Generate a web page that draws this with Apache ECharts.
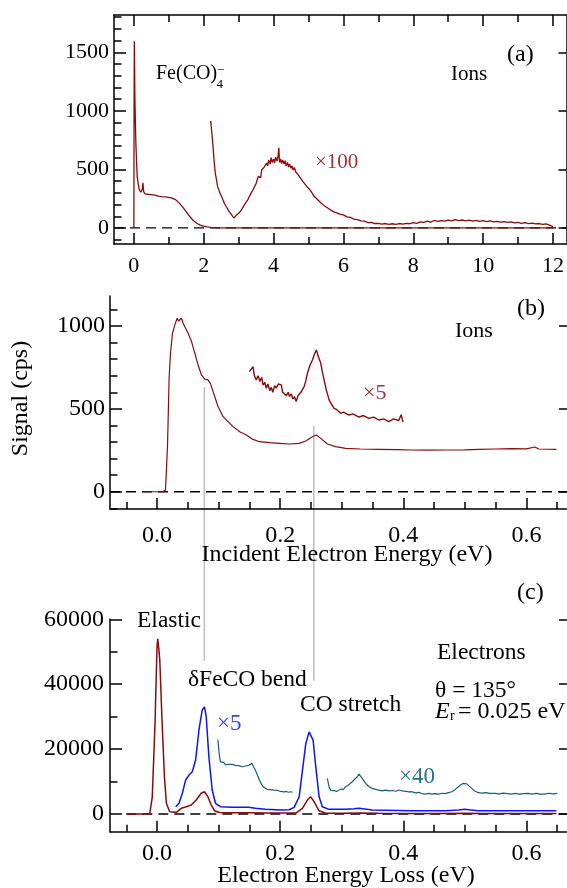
<!DOCTYPE html>
<html>
<head>
<meta charset="utf-8">
<script src="https://cdn.jsdelivr.net/npm/echarts@6/dist/echarts.min.js"></script>
<style>
html,body{margin:0;padding:0;background:#fff;}
#chart{width:567px;height:888px;}
</style>
</head>
<body>
<div id="chart"></div>
<script>
// ---------------- DATA ----------------
// Panel (a): ions, incident energy 0-12 eV
const ionsA = [[0,0],[0.005,900],[0.012,1595],[0.03,1090],[0.057,723],[0.095,438],[0.15,330],[0.2,305],[0.24,330],[0.26,385],[0.28,310],[0.32,292],[0.4,288],[0.5,284],[0.6,280],[0.7,272],[0.8,268],[0.9,266],[1.0,262],[1.1,255],[1.2,240],[1.3,212],[1.4,178],[1.5,138],[1.6,98],[1.7,64],[1.8,40],[1.9,24],[2.0,15],[2.1,9],[2.2,5],[2.4,2],[2.7,1],[3,0],[12,0]];
const ionsAx100 = [[2.20,915],[2.23,820],[2.26,720],[2.30,560],[2.33,470],[2.36,420],[2.40,350],[2.43,330],[2.46,300],[2.50,275],[2.53,255],[2.56,240],[2.60,205],[2.63,195],[2.66,175],[2.70,165],[2.73,140],[2.76,130],[2.80,112],[2.83,100],[2.86,85],[2.88,95],[2.91,88],[2.94,110],[2.97,100],[3.00,125],[3.03,120],[3.06,145],[3.10,150],[3.13,180],[3.16,170],[3.20,215],[3.23,200],[3.26,240],[3.30,265],[3.33,255],[3.36,300],[3.40,320],[3.43,310],[3.46,355],[3.50,380],[3.53,365],[3.56,440],[3.60,450],[3.63,430],[3.66,495],[3.70,490],[3.73,520],[3.76,505],[3.80,555],[3.83,530],[3.86,580],[3.90,545],[3.93,600],[3.96,560],[4.00,590],[4.03,555],[4.06,605],[4.10,570],[4.13,615],[4.15,685],[4.17,560],[4.20,590],[4.23,550],[4.26,580],[4.30,545],[4.33,575],[4.36,530],[4.40,560],[4.43,520],[4.46,545],[4.50,510],[4.53,530],[4.56,495],[4.60,515],[4.63,480],[4.66,490],[4.70,455],[4.73,470],[4.76,430],[4.80,440],[4.83,400],[4.86,415],[4.90,375],[4.93,390],[4.96,350],[5.00,365],[5.03,330],[5.06,335],[5.10,300],[5.13,310],[5.16,270],[5.20,285],[5.25,245],[5.30,255],[5.35,215],[5.40,225],[5.45,190],[5.50,200],[5.55,170],[5.60,175],[5.65,150],[5.70,158],[5.75,135],[5.80,140],[5.90,118],[6.00,112],[6.10,95],[6.20,90],[6.30,75],[6.40,72],[6.50,60],[6.60,58],[6.70,45],[6.80,48],[6.90,38],[7.00,40],[7.10,32],[7.20,38],[7.30,30],[7.40,36],[7.50,31],[7.60,38],[7.70,33],[7.80,40],[7.90,36],[8.00,45],[8.10,40],[8.20,52],[8.30,47],[8.40,58],[8.50,50],[8.60,64],[8.70,56],[8.80,62],[8.90,58],[9.00,66],[9.10,60],[9.20,72],[9.30,62],[9.40,68],[9.50,60],[9.60,66],[9.70,58],[9.80,64],[9.90,57],[10.00,62],[10.10,55],[10.20,60],[10.30,52],[10.40,57],[10.50,50],[10.60,55],[10.70,47],[10.80,52],[10.90,44],[11.00,48],[11.10,40],[11.20,45],[11.30,37],[11.40,42],[11.50,35],[11.60,38],[11.70,30],[11.80,34],[11.90,24],[12.00,12]];
// Panel (b): ions, incident energy 0-0.65 eV
const ionsB = [[-0.0236,0],[0.0097,0],[0.0136,10],[0.0169,272],[0.0196,694],[0.0218,836],[0.025,956],[0.0288,1007],[0.0326,1047],[0.035,1030],[0.037,1037],[0.0396,1047],[0.042,1020],[0.045,996],[0.0504,956],[0.056,906],[0.0612,836],[0.0666,765],[0.072,705],[0.0774,679],[0.0828,675],[0.0866,654],[0.091,604],[0.0991,513],[0.1072,453],[0.1153,423],[0.1234,393],[0.1342,362],[0.145,342],[0.1558,316],[0.1666,302],[0.1828,296],[0.199,292],[0.2152,288],[0.2308,292],[0.2416,306],[0.2524,332],[0.2588,342],[0.266,322],[0.2766,288],[0.29,272],[0.3063,262],[0.33,258],[0.36,256],[0.39,254],[0.414,252],[0.44,251],[0.468,252],[0.5,253],[0.522,256],[0.55,258],[0.5757,260],[0.6,259],[0.6136,270],[0.62,258],[0.6486,256]];
const ionsBx5 = [[0.15,725],[0.153,740],[0.1558,755],[0.158,700],[0.161,675],[0.164,700],[0.167,665],[0.17,690],[0.172,644],[0.175,660],[0.1774,624],[0.18,650],[0.183,610],[0.1855,630],[0.188,600],[0.191,640],[0.1936,625],[0.197,650],[0.2017,645],[0.204,600],[0.2071,594],[0.21,580],[0.213,600],[0.2152,575],[0.218,590],[0.2206,560],[0.2233,574],[0.226,545],[0.229,580],[0.2308,570],[0.2335,600],[0.2362,590],[0.2389,634],[0.2416,670],[0.2443,715],[0.248,760],[0.2524,795],[0.2555,830],[0.2588,856],[0.2615,820],[0.2659,775],[0.2686,720],[0.2713,675],[0.2745,620],[0.2794,554],[0.283,530],[0.2875,503],[0.292,495],[0.2982,473],[0.303,480],[0.3117,463],[0.318,470],[0.3279,450],[0.335,460],[0.344,443],[0.352,450],[0.3602,433],[0.368,440],[0.3764,423],[0.384,440],[0.3925,430],[0.3965,465],[0.3995,420]];
// Panel (c): electrons, energy loss
const elecRed = [[-0.0495,0],[-0.012,0],[-0.0078,5300],[-0.0032,28900],[-0.0015,42000],[0.0,52000],[0.001,54000],[0.0025,51500],[0.0044,47400],[0.008,28900],[0.0119,11500],[0.0151,3300],[0.0205,720],[0.0313,520],[0.0393,1750],[0.0474,2250],[0.0555,2770],[0.0636,4300],[0.0716,6380],[0.077,6870],[0.0825,5330],[0.0879,2770],[0.0933,1020],[0.1014,450],[0.123,380],[0.15,350],[0.18,300],[0.2,280],[0.22,290],[0.2254,300],[0.2361,1750],[0.2442,4300],[0.2496,5300],[0.255,3800],[0.263,1000],[0.274,250],[0.3,230],[0.33,330],[0.36,220],[0.4,190],[0.45,180],[0.5,260],[0.53,180],[0.6,170],[0.6486,170]];
const elecBluex5 = [[0.0302,2250],[0.0356,3300],[0.041,6380],[0.0464,10480],[0.0518,12000],[0.0572,13050],[0.0626,16640],[0.068,25890],[0.0733,32050],[0.077,33000],[0.0798,29970],[0.0841,17640],[0.0895,7400],[0.0949,3300],[0.103,2250],[0.1219,2050],[0.1488,2050],[0.1596,1750],[0.1758,1440],[0.2027,1230],[0.2146,1300],[0.2227,2050],[0.2308,5300],[0.2362,13500],[0.2416,21750],[0.247,25300],[0.2497,25850],[0.2534,22770],[0.2578,14560],[0.2632,5300],[0.2685,2250],[0.2793,1440],[0.3063,1440],[0.32,1600],[0.3279,1750],[0.34,1500],[0.3493,1230],[0.414,1000],[0.468,1000],[0.49,1200],[0.5,1440],[0.51,1250],[0.522,1000],[0.6486,1000]];
const elecTealx40a = [[0.0987,22970],[0.1003,19700],[0.102,17000],[0.103,16090],[0.1057,15600],[0.108,15900],[0.111,15200],[0.1135,15500],[0.1165,15280],[0.119,14900],[0.122,15300],[0.1245,14700],[0.1273,14970],[0.13,14500],[0.1327,14900],[0.1355,14400],[0.138,14560],[0.141,14300],[0.1435,14800],[0.146,14500],[0.1488,14970],[0.151,15300],[0.1542,15600],[0.157,14400],[0.1596,13540],[0.1623,12300],[0.165,10980],[0.1677,9900],[0.1704,8920],[0.173,8300],[0.1758,7900],[0.1785,7600],[0.1812,7380],[0.184,7500],[0.1866,7200],[0.19,7350],[0.193,7100],[0.196,7250],[0.2,6950],[0.203,7050],[0.2065,6800],[0.21,6950],[0.2135,6700],[0.217,6850],[0.2189,6560],[0.22,6700]];
const elecTealx40b = [[0.2766,10980],[0.2793,8400],[0.282,7300],[0.2847,6870],[0.288,7200],[0.2915,6950],[0.2955,7380],[0.299,7700],[0.3025,7500],[0.3063,8400],[0.31,8800],[0.3135,9400],[0.3171,9940],[0.321,10700],[0.3252,11480],[0.3279,12300],[0.3306,11700],[0.3333,10980],[0.337,9900],[0.3414,8920],[0.345,8300],[0.3495,7900],[0.355,7600],[0.3603,7380],[0.366,7150],[0.371,7350],[0.377,7100],[0.3818,7250],[0.388,7000],[0.393,7400],[0.398,7150],[0.404,7000],[0.409,6800],[0.414,6870],[0.42,6500],[0.425,6650],[0.43,6300],[0.4356,6150],[0.441,6350],[0.446,6100],[0.4515,6300],[0.4572,6150],[0.463,6400],[0.468,6300],[0.4735,6600],[0.4787,6870],[0.484,7500],[0.4895,8400],[0.494,9100],[0.4976,9430],[0.503,9300],[0.507,8600],[0.5111,7900],[0.516,7100],[0.5219,6560],[0.528,6450],[0.534,6600],[0.54,6350],[0.5488,6360],[0.556,6200],[0.562,6450],[0.5697,6250],[0.5757,6150],[0.582,6350],[0.588,6100],[0.5945,6300],[0.6026,6360],[0.609,6150],[0.616,6350],[0.6226,6100],[0.6296,6150],[0.636,6400],[0.643,6200],[0.65,6360]];

// Tick values
const aXMajor = [0,2,4,6,8,10,12];
const aXMinor = [1,3,5,7,9,11];
const aYMajor = [0,500,1000,1500];
const aYMinor = [-100,100,200,300,400,600,700,800,900,1100,1200,1300,1400,1600,1700,1800];
const bcXMajor = [0,0.2,0.4,0.6];
const bcXMinor = [-0.05,0.05,0.1,0.15,0.25,0.3,0.35,0.45,0.5,0.55,0.65];
const bYMajor = [0,500,1000];
const bYMinor = [-100,100,200,300,400,600,700,800,900,1100];
const cYMajor = [0,20000,40000,60000];
const cYMinor = [10000,30000,50000];

// Axis ranges
const aXRange = [-0.569, 12.386], aYRange = [-137, 1819];
const bcXRange = [-0.0765, 0.6659];
const bYRange = [-104, 1181];
const cYRange = [-5455, 60000];

// Guide lines (energy, top value in panel b, bottom value in panel c)
const guideX = [0.0767, 0.2546];
const guideTopB = [632, 397];
const guideBottomC = [47240, 41080];

// ---------------- CHART ----------------
const FONT = '"Liberation Serif", "Times New Roman", serif';
const RED = '#8c0a0a', RED_LBL = '#a23232', BLUE = '#0a14ff', BLUE_LBL = '#3a44f0', TEAL = '#17607a', TEAL_LBL = '#2a7088';
const AX = {color:'#000', width:1.5};

function xAx(grid, range, pos, ticks, len, labels, fs, margin, fmt, showLine){
  return {
    type:'value', gridIndex:grid, min:range[0], max:range[1], position:pos,
    axisLine:{show:showLine, onZero:false, lineStyle:AX},
    axisTick:{show:true, inside:true, length:len, customValues:ticks, lineStyle:AX},
    axisLabel:{show:!!labels, customValues:labels||[], fontFamily:FONT, fontSize:fs, color:'#000', margin:margin, formatter:fmt},
    splitLine:{show:false}
  };
}
function yAx(grid, range, pos, ticks, len, labels, fs, margin, showLine){
  return {
    type:'value', gridIndex:grid, min:range[0], max:range[1], position:pos,
    axisLine:{show:showLine, onZero:false, lineStyle:AX},
    axisTick:{show:true, inside:true, length:len, customValues:ticks, lineStyle:AX},
    axisLabel:{show:!!labels, customValues:labels||[], fontFamily:FONT, fontSize:fs, color:'#000', margin:margin, formatter: v => String(Math.round(v))},
    splitLine:{show:false}
  };
}
const f1 = v => Number(v).toFixed(1);
const f0 = v => String(Math.round(v));

const xAxes = [
  xAx(0, aXRange, 'bottom', aXMajor, 11, aXMajor, 22, 11.5, f0, true),   //0
  xAx(0, aXRange, 'bottom', aXMinor, 7, null, 22, 8, f0, false),         //1
  xAx(0, aXRange, 'top', aXMajor, 11, null, 22, 8, f0, true),            //2
  xAx(0, aXRange, 'top', aXMinor, 7, null, 22, 8, f0, false),            //3
  xAx(1, bcXRange, 'bottom', bcXMajor, 11, bcXMajor, 24, 15, f1, true),  //4
  xAx(1, bcXRange, 'bottom', bcXMinor, 7, null, 24, 8, f1, false),       //5
  xAx(2, bcXRange, 'bottom', bcXMajor, 11, bcXMajor, 24, 10.5, f1, true),//6
  xAx(2, bcXRange, 'bottom', bcXMinor, 7, null, 24, 8, f1, false)        //7
];
const yAxes = [
  yAx(0, aYRange, 'left', aYMajor, 12, aYMajor, 22, 5, true),   //0
  yAx(0, aYRange, 'left', aYMinor, 7.5, null, 22, 5, false),    //1
  yAx(0, aYRange, 'right', aYMajor, 8, null, 22, 5, true),      //2
  yAx(1, bYRange, 'left', bYMajor, 12, bYMajor, 24, 5, true),   //3
  yAx(1, bYRange, 'left', bYMinor, 7.5, null, 24, 5, false),    //4
  yAx(1, bYRange, 'right', bYMajor, 8, null, 24, 5, false),     //5
  yAx(2, cYRange, 'left', cYMajor, 12, cYMajor, 24, 6, true),   //6
  yAx(2, cYRange, 'left', cYMinor, 7.5, null, 24, 6, false),    //7
  yAx(2, cYRange, 'right', cYMajor, 8, null, 24, 6, false)      //8
];

function line(name, data, xi, yi, color, width, z, dashed){
  return {
    name, type:'line', data, xAxisIndex:xi, yAxisIndex:yi, showSymbol:false, symbol:'none',
    lineStyle:{color, width, type: dashed ? [10,6] : 'solid'}, z: z||2, silent:true, clip:true
  };
}

const series = [
  line('zeroA', [[aXRange[0],0],[aXRange[1],0]], 0, 0, '#000', 1.3, 1, true),
  line('zeroB', [[bcXRange[0],0],[bcXRange[1],0]], 4, 3, '#000', 1.3, 1, true),
  line('zeroC', [[-0.05,0],[bcXRange[1],0]], 6, 6, '#000', 1.3, 1, true),
  line('ionsA', ionsA, 0, 0, RED, 1.3),
  line('ionsAx100', ionsAx100, 0, 0, RED, 1.3),
  line('ionsB', ionsB, 4, 3, RED, 1.2),
  line('ionsBx5', ionsBx5, 4, 3, RED, 1.4),
  line('elecTealA', elecTealx40a, 6, 6, TEAL, 1.2),
  line('elecTealB', elecTealx40b, 6, 6, TEAL, 1.2),
  line('elecBlue', elecBluex5, 6, 6, BLUE, 1.5),
  line('elecRed', elecRed, 6, 6, RED, 1.5)
];

function T(text, x, y, size, opt){
  opt = opt || {};
  return {
    type:'text', x, y, rotation: opt.rot || 0, z:10, silent:true,
    style:{
      text, fill: opt.color || '#000',
      font: (opt.italic ? 'italic ' : '') + size + 'px ' + FONT,
      align: opt.align || 'left', textAlign: opt.align || 'left',
      verticalAlign:'middle', textVerticalAlign:'middle'
    }
  };
}

const texts = [
  T('Fe(CO)', 156, 74, 20),
  T('4', 216.5, 85, 13),
  T('\u2212', 217, 71, 13),
  T('(a)', 507, 55, 24),
  T('Ions', 451, 74, 21),
  T('\u00d7100', 315, 162, 21, {color:RED_LBL}),
  T('(b)', 517, 309, 24),
  T('Ions', 455, 331, 22),
  T('\u00d75', 363, 393, 22, {color:RED_LBL}),
  T('(c)', 517, 593, 24),
  T('Elastic', 137, 620.5, 23.5),
  T('\u03b4FeCO bend', 188, 680.3, 23.5),
  T('CO stretch', 300, 705, 23.5),
  T('Electrons', 437, 652.7, 23.5),
  T('\u03b8 = 135\u00b0', 435, 690.5, 23.5),
  T('E', 435, 712, 24, {italic:true}),
  T('r', 450, 716, 14),
  T('= 0.025 eV', 458, 712, 24),
  T('\u00d75', 217, 724, 23, {color:BLUE_LBL}),
  T('\u00d740', 399, 777, 23, {color:TEAL_LBL}),
  T('Incident Electron Energy (eV)', 347, 555, 24, {align:'center'}),
  T('Electron Energy Loss (eV)', 346, 875.5, 24, {align:'center'}),
  T('Signal (cps)', 21, 398.5, 24, {align:'center', rot:Math.PI/2})
];

const chart = echarts.init(document.getElementById('chart'), null, {renderer:'canvas', width:567, height:888});
chart.setOption({
  animation:false,
  backgroundColor:'#fff',
  grid:[
    {left:114, top:15, width:455, height:229},
    {left:110, top:296, width:459, height:213},
    {left:110, top:619.3, width:459, height:212.4}
  ],
  xAxis:xAxes,
  yAxis:yAxes,
  series,
  graphic: texts
});

// Guide lines drawn through the library's scales
const guides = guideX.map((gx, i) => {
  const p1 = chart.convertToPixel({xAxisIndex:4, yAxisIndex:3}, [gx, guideTopB[i]]);
  const p2 = chart.convertToPixel({xAxisIndex:6, yAxisIndex:6}, [gx, guideBottomC[i]]);
  return {type:'line', z:0, silent:true, shape:{x1:p1[0], y1:p1[1], x2:p2[0], y2:p2[1]}, style:{stroke:'#c2c2c2', lineWidth:1.6}};
});
chart.setOption({graphic: texts.concat(guides)});
</script>
</body>
</html>
